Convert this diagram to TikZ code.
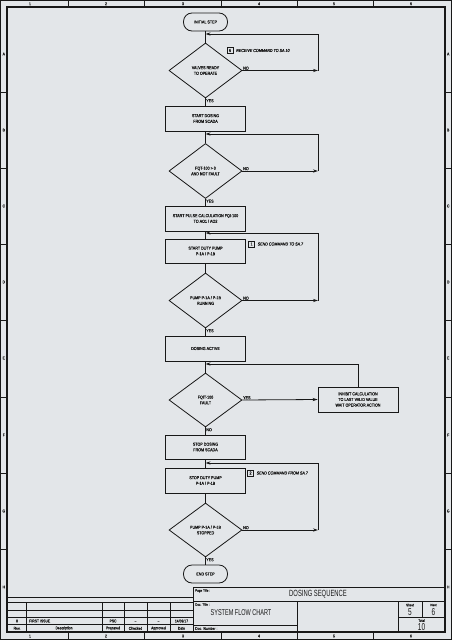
\documentclass[tikz,border=0pt]{standalone}
\usepackage{fontspec}
\setmainfont{Liberation Sans}
\newfontfamily\cad[FakeStretch=0.85,FakeBold=0.3]{Liberation Sans}
\newfontfamily\cadn[FakeStretch=0.65]{Liberation Sans}
\usetikzlibrary{shapes.geometric,arrows.meta}
\definecolor{bg}{HTML}{E3E6E9}
\definecolor{ink}{HTML}{181818}
\tikzset{
  base/.style={draw=ink, line width=0.8pt, font=\cad\fontsize{4.3}{5.6}\selectfont, align=center, text=ink, inner sep=0pt},
  procbox/.style={base, rectangle, minimum width=80pt, minimum height=25pt},
  decbox/.style={base, diamond, aspect=1.33, minimum width=73pt, minimum height=55pt},
  termbox/.style={base, rectangle, rounded corners=8.5pt, minimum width=44pt, minimum height=18pt},
  link/.style={draw=ink, line width=0.8pt},
  arr/.style={link, -{Stealth[length=5pt,width=3.2pt]}},
  lbl/.style={font=\cad\fontsize{4.3}{5}\selectfont, text=ink, inner sep=0.6pt},
  numbox/.style={draw=ink, line width=0.7pt, minimum size=6pt, inner sep=0pt, text=ink, font=\cad\fontsize{4.3}{5}\selectfont},
  cmd/.style={font=\cad\itshape\fontsize{4.3}{5}\selectfont, text=ink, anchor=west, inner sep=0pt},
  frm/.style={draw=ink, line width=1.4pt},
  thin/.style={draw=ink, line width=0.6pt},
  zone/.style={font=\cad\fontsize{4}{5}\selectfont, text=ink, inner sep=0pt},
  tiny/.style={font=\cad\fontsize{3.5}{4}\selectfont, text=ink, inner sep=0pt},
  small/.style={font=\cad\fontsize{4}{5}\selectfont, text=ink, inner sep=0pt},
  bigt/.style={font=\cadn\fontsize{9}{10}\selectfont, text=ink, inner sep=0pt},
  midt/.style={font=\cadn\fontsize{8.5}{10}\selectfont, text=ink, inner sep=0pt},
  digit/.style={font=\cadn\fontsize{10}{11}\selectfont, text=ink, inner sep=0pt},
}
\begin{document}
\begin{tikzpicture}[x=1pt,y=-1pt]
\useasboundingbox (0,0) rectangle (452,640);
\fill[bg] (0,0) rectangle (452,640);
% ---- drawing frame ----
\draw[thin] (0.5,0.5) rectangle (451.5,639.5);
\draw[frm] (7,7) rectangle (445,632);
\foreach \x in {68,144,221,297,373}{
  \draw[thin] (\x,0.5) -- (\x,7);
  \draw[thin] (\x,632) -- (\x,639.5);
}
\foreach \y in {92,168,244,320,397,473,549}{
  \draw[thin] (0.5,\y) -- (7,\y);
  \draw[thin] (445,\y) -- (451.5,\y);
}
\foreach \x/\n in {30/1,106/2,183/3,259/4,334/5,411/6}{
  \node[zone] (ct\n) at (\x,3.8) {\n};
  \node[zone] (cb\n) at (\x,636) {\n};
}
\foreach \y/\n in {54/A,130/B,206/C,282/D,358/E,435/F,511/G,587/H}{
  \node[zone] (rl\n) at (3.8,\y) {\n};
  \node[zone] (rr\n) at (448.2,\y) {\n};
}
% ---- title block ----
\draw[thin] (7,597) -- (193,597);
\foreach \y in {602.5,610.5,617.5,624.5}{ \draw[thin] (7,\y) -- (193,\y); }
\foreach \x in {26,102,124,147,170}{ \draw[thin] (\x,602.5) -- (\x,632); }
\draw[thin] (193,587) -- (445,587);
\draw[thin] (193,587) -- (193,632);
\draw[thin] (193,601) -- (445,601);
\draw[thin] (193,625) -- (297,625);
\draw[thin] (297,601) -- (297,632);
\draw[thin] (398,601) -- (398,632);
\draw[thin] (422,601) -- (422,617);
\draw[thin] (398,617) -- (445,617);
\node[small] (rv0) at (17,621) {0};
\node[small, anchor=west] (rv1) at (29,621) {FIRST ISSUE};
\node[small] (rv2) at (113,621) {PSC};
\node[small] (rv3) at (135.5,621) {\_};
\node[small] (rv4) at (158.5,621) {\_};
\node[small] (rv5) at (181.5,621) {14/09/17};
\node[small] (rh0) at (17,628.3) {Rev.};
\node[small] (rh1) at (64,628.3) {Description};
\node[small] (rh2) at (113,628.3) {Prepared};
\node[small] (rh3) at (135.5,628.3) {Checked};
\node[small] (rh4) at (158.5,628.3) {Approved};
\node[small] (rh5) at (181.5,628.3) {Date};
\node[small, anchor=west] (dn) at (195,628.5) {Doc. Number :};
\node[tiny, anchor=north west] (pt) at (195,589) {Page Title :};
\node[bigt] (ptv) at (318,594) {DOSING SEQUENCE};
\node[tiny, anchor=north west] (dt) at (195,603) {Doc. Title :};
\node[midt] (dtv) at (241,613) {SYSTEM FLOW CHART};
\node[tiny] (sh) at (410,605) {Sheet};
\node[digit] (shv) at (410,612.5) {5};
\node[tiny] (nx) at (433.5,605) {Next};
\node[digit] (nxv) at (433.5,612.5) {6};
\node[tiny] (tt) at (421.5,620.5) {Total};
\node[digit] (ttv) at (421.5,627.5) {10};
% ---- flowchart ----
\coordinate (rx) at (318,0);
\node[termbox] (start) at (205.5,22) {INITIAL STEP};
\node[decbox] (d1) at (205.5,70.5) {VALVES READY\\TO OPERATE};
\node[procbox] (b1) at (205.5,118.5) {START DOSING\\FROM SCADA};
\node[decbox] (d2) at (205.5,171) {FQT-100 {>} 0\\AND NOT FAULT};
\node[procbox] (b2) at (205.5,218.5) {START PULSE CALCULATION FQI-100\\TO AO1 / AO2};
\node[procbox, minimum height=24pt] (b3) at (205.5,251) {START DUTY PUMP\\P-1A / P-1B};
\node[decbox] (d3) at (205.5,300.5) {PUMP P-1A / P-1B\\RUNNING};
\node[procbox] (b4) at (205.5,348.5) {DOSING ACTIVE};
\node[decbox, minimum height=54pt] (d4) at (205.5,400) {FQIT-100\\FAULT};
\node[procbox] (b5) at (358,399.5) {INHIBIT CALCULATION\\TO LAST VALID VALUE\\WAIT OPERATOR ACTION};
\node[procbox, minimum height=24pt] (b6) at (205.5,447) {STOP DOSING\\FROM SCADA};
\node[procbox] (b7) at (205.5,480.5) {STOP DUTY PUMP\\P-1A / P-1B};
\node[decbox, minimum height=54pt] (d5) at (205.5,530) {PUMP P-1A / P-1B\\STOPPED};
\node[termbox] (stop) at (205.5,574) {END STEP};
\coordinate (j1) at (205.5,34);
\coordinate (j2) at (205.5,134);
\coordinate (j3) at (205.5,233);
\coordinate (j4) at (205.5,364);
\coordinate (j5) at (205.5,463);
% main line
\draw[link] (start.south) -- (d1.north);
\draw[link] (d1.south) -- (b1.north);
\draw[link] (b1.south) -- (d2.north);
\draw[link] (d2.south) -- (b2.north);
\draw[link] (b2.south) -- (b3.north);
\draw[link] (b3.south) -- (d3.north);
\draw[link] (d3.south) -- (b4.north);
\draw[link] (b4.south) -- (d4.north);
\draw[link] (d4.south) -- (b6.north);
\draw[link] (b6.south) -- (b7.north);
\draw[link] (b7.south) -- (d5.north);
\draw[link] (d5.south) -- (stop.north);
% loops
\draw[arr] (d1.east) -- (d1.east -| rx);
\draw[arr] (d1.east -| rx) |- (j1);
\draw[arr] (d2.east) -- (d2.east -| rx);
\draw[arr] (d2.east -| rx) |- (j2);
\draw[arr] (d3.east) -- (d3.east -| rx);
\draw[arr] (d3.east -| rx) |- (j3);
\draw[arr] (d4.east) -- (b5.west);
\draw[arr] (b5.north) |- (j4);
\draw[arr] (d5.east) -- (d5.east -| rx);
\draw[arr] (d5.east -| rx) |- (j5);
% branch labels
\foreach \d in {d1,d2,d3,d5}{
  \node[lbl, anchor=south west] (\d no) at (\d.east) {NO};
  \node[lbl, anchor=north west] (\d yes) at (\d.south) {YES};
}
\node[lbl, anchor=south west] (d4yes) at (d4.east) {YES};
\node[lbl, anchor=north west] (d4no) at (d4.south) {NO};
% command notes
\node[numbox] (n6) at (230,50.5) {6};
\node[cmd] (t6) at (236,50.5) {RECEIVE COMMAND TO SA.10};
\node[numbox] (n1) at (251.5,244) {1};
\node[cmd] (t1) at (257.5,244) {SEND COMMAND TO SA.7};
\node[numbox] (n2) at (250.5,473) {2};
\node[cmd] (t2) at (256.5,473) {SEND COMMAND FROM SA.7};
\end{tikzpicture}
\end{document}
